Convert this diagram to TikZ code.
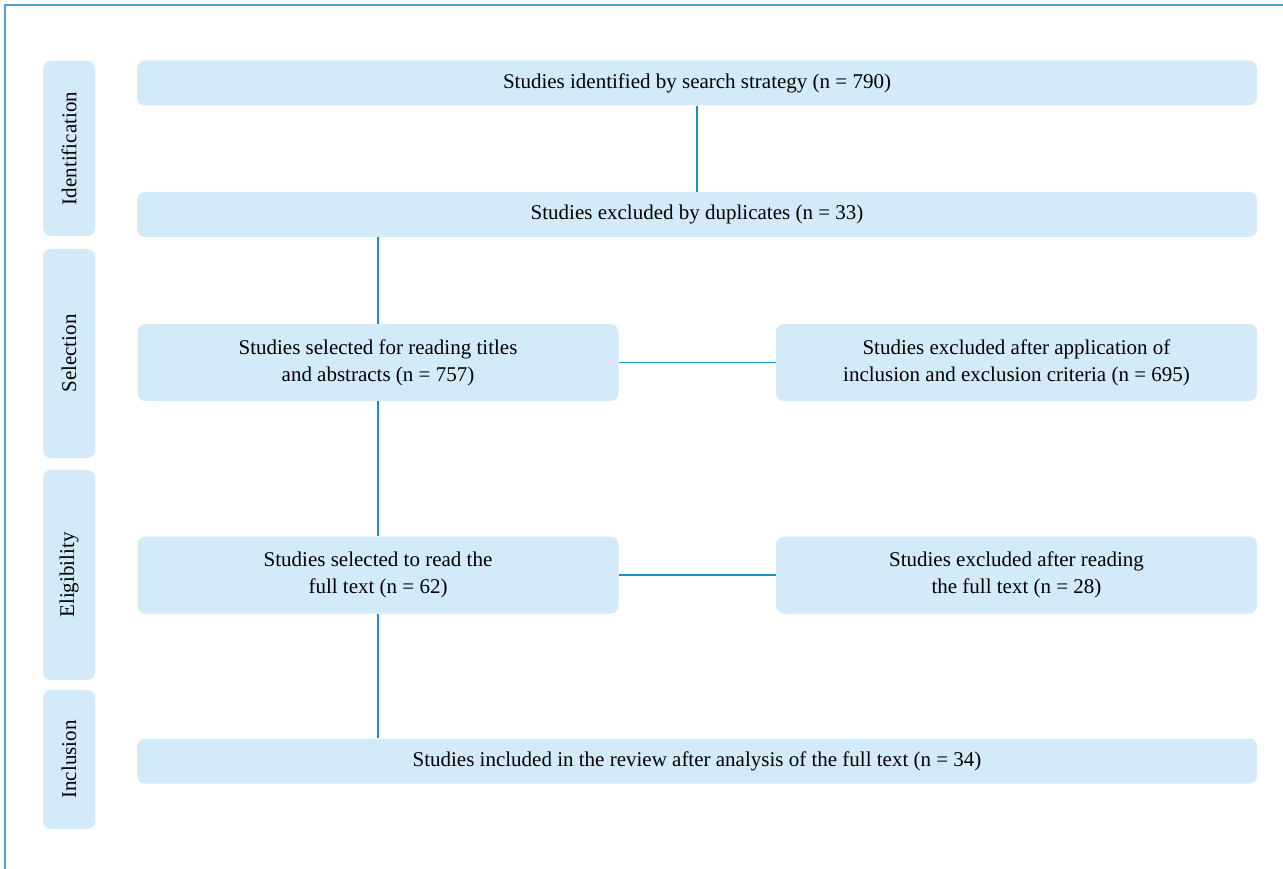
\documentclass[tikz,border=0pt]{standalone}
\usepackage{fontspec}
\setmainfont{Liberation Serif}
\usepackage{xcolor}
\definecolor{boxfill}{HTML}{D3EAF9}
\definecolor{linkblue}{HTML}{1A90C8}
\definecolor{frameblue}{HTML}{4AA3D6}

\begin{document}
\begin{tikzpicture}[x=1pt, y=-1pt,
      box/.style={fill=boxfill, rounded corners=8pt, inner sep=0pt,
                  align=center, font=\fontsize{21}{27}\selectfont},
      widebox/.style={box, minimum width=1120pt, minimum height=45pt},
      halfbox/.style={box, minimum width=481pt, minimum height=77pt},
      phase/.style={box, minimum height=52pt, rotate=90},
      link/.style={color=linkblue, line width=1.4pt}
    ]
      \useasboundingbox (0,0) rectangle (1283,869);
      % frame
      \draw[frameblue, line width=1.2pt] (1283,5) -- (5,5) -- (5,869);
      % phases
      \node[phase, minimum width=175pt] (idn) at (69,148.5) {Identification};
      \node[phase, minimum width=209pt] (sel) at (69,353.5) {Selection};
      \node[phase, minimum width=210pt] (eli) at (69,575) {Eligibility};
      \node[phase, minimum width=139pt] (inc) at (69,759.5) {Inclusion};
      % Identification
      \node[widebox] (found) at (697,83)
        {Studies identified by search strategy (n = 790)};
      \node[widebox] (dup) at (697,214.5)
        {Studies excluded by duplicates (n = 33)};
      % Selection
      \node[halfbox] (titles) at (378,362.5)
        {Studies selected for reading titles\\and abstracts (n = 757)};
      \node[halfbox] (crit) at (1016.5,362.5)
        {Studies excluded after application of\\inclusion and exclusion criteria (n = 695)};
      % Eligibility
      \node[halfbox] (full) at (378,575)
        {Studies selected to read the\\full text (n = 62)};
      \node[halfbox] (fullex) at (1016.5,575)
        {Studies excluded after reading\\the full text (n = 28)};
      % Inclusion
      \node[widebox] (incl) at (697,761)
        {Studies included in the review after analysis of the full text (n = 34)};

      \draw[link] (found) -- (dup);
      \draw[link] (dup.south -| titles) -- (titles);
      \draw[link] (titles) -- (crit);
      \draw[link] (titles) -- (full);
      \draw[link] (full) -- (fullex);
      \draw[link] (full) -- (incl.north -| full);
    \end{tikzpicture}
\end{document}
